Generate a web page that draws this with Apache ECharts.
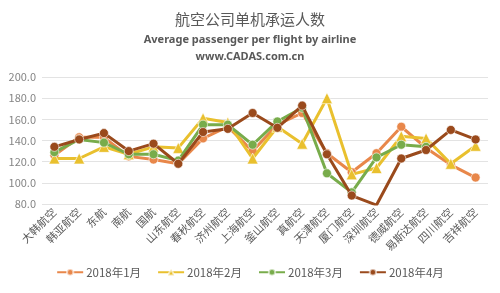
<!DOCTYPE html>
<html><head><meta charset="utf-8">
<script src="https://cdn.jsdelivr.net/npm/echarts@6/dist/echarts.min.js"></script>
<style>html,body{margin:0;padding:0;background:#fff}#c{width:500px;height:293px}</style>
</head><body><div id="c"></div>
<script>
const categories = ['大韩航空','韩亚航空','东航','南航','国航','山东航空','春秋航空','济州航空','上海航空','釜山航空','真航空','天津航空','厦门航空','深圳航空','德威航空','易斯达航空','四川航空','吉祥航空'];
const jan = [126,143,143,125,122,118,142,153,130,155,166,128,110,128,153,133,117,105];
const feb = [123,123,134,127,134,133,161,157,123,153,137,180,108,114,144,142,118,135];
const mar = [129,141,138,127,127,121,155,155,136,158,171,109,91,124,136,134,null,null];
const apr = [134,141,147,130,137,118,148,151,166,152,173,127,88,79,123,131,150,141];
const seriesNames = ['2018年1月','2018年2月','2018年3月','2018年4月'];
const yTicks = {min:80, max:200, interval:20};

const colors = ['#E8874A','#E9C02E','#78AC4B','#9A4A1C'];
const symbols = ['circle','triangle','circle','circle'];
const dataSets = [jan, feb, mar, apr];

const chart = echarts.init(document.getElementById('c'));
chart.setOption({
  animation:false,
  textStyle:{fontFamily:'"Noto Sans CJK SC", "Noto Sans", sans-serif'},
  title:[
    {text:'航空公司单机承运人数', left:'center', top:7, textStyle:{fontSize:15, fontWeight:'normal', color:'#595959', fontFamily:'"Noto Sans CJK SC", sans-serif'}},
    {text:'Average passenger per flight by airline', left:'center', top:29, textStyle:{fontSize:11, fontWeight:'bold', color:'#595959', fontFamily:'"Noto Sans", sans-serif'}},
    {text:'www.CADAS.com.cn', left:'center', top:46, textStyle:{fontSize:11, fontWeight:'bold', color:'#595959', fontFamily:'"Noto Sans", sans-serif'}}
  ],
  grid:{left:42, right:12, top:77, bottom:89, containLabel:false},
  xAxis:{type:'category', data:categories, boundaryGap:true,
    axisLine:{show:false}, axisTick:{show:false},
    axisLabel:{rotate:45, interval:0, fontSize:11, color:'#595959', margin:6}},
  yAxis:{type:'value', min:yTicks.min, max:yTicks.max, interval:yTicks.interval,
    axisLine:{show:false}, axisTick:{show:false},
    axisLabel:{formatter:v=>v.toFixed(1), fontSize:11, color:'#858585', margin:6},
    splitLine:{lineStyle:{color:'#e3e3e3', width:1}}},
  legend:{bottom:10, left:'center', itemWidth:26, itemHeight:8, itemGap:16,
    textStyle:{fontSize:11.5, color:'#595959', padding:[0,0,0,-2]}, data:seriesNames},
  series: dataSets.map((d,i)=>({
    name:seriesNames[i], type:'line', data:d, connectNulls:false,
    symbol:symbols[i], symbolSize: i===1?11:9,
    lineStyle:{width:3, color:colors[i]},
    itemStyle:{color:colors[i], borderColor:'rgba(255,255,255,0.6)', borderWidth:1},
    z:2+i
  }))
});
</script></body></html>
